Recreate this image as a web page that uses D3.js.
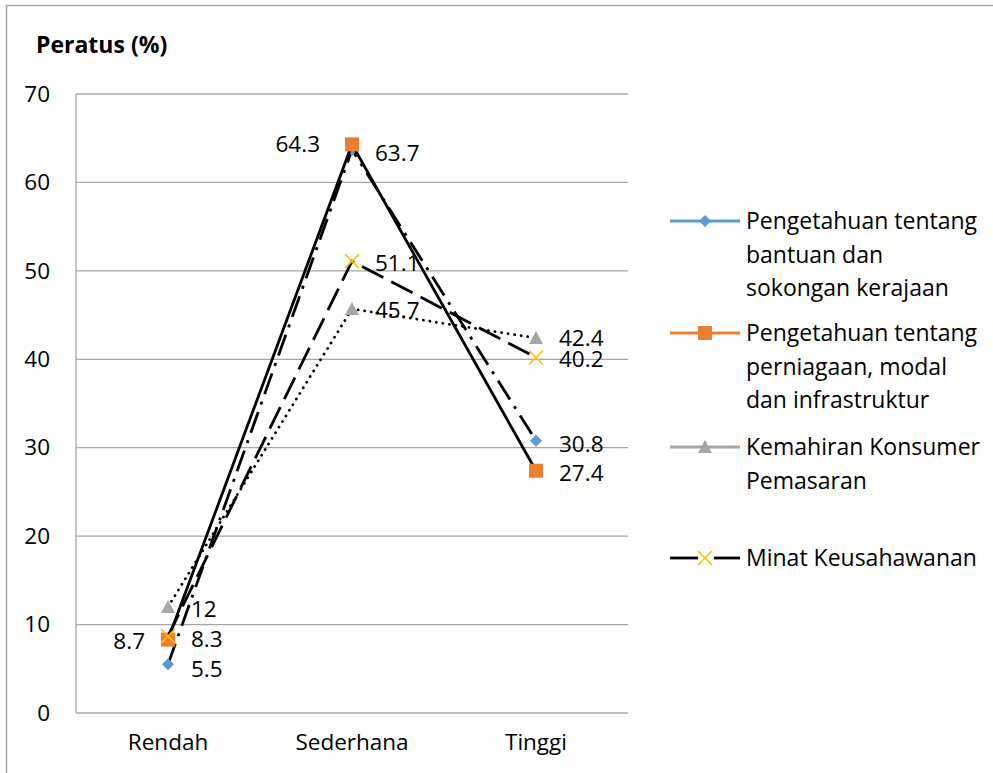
<!DOCTYPE html>
<html>
<head>
<meta charset="utf-8">
<script src="https://cdn.jsdelivr.net/npm/d3@7"></script>
<style>
  body { margin: 0; background: #fff; }
  svg text { font-family: "Open Sans", sans-serif; fill: #000; }
</style>
</head>
<body>
<div id="chart"></div>
<script>
// categories and values
var categories = ["Rendah", "Sederhana", "Tinggi"];
var seriesNames = [
  "Pengetahuan tentang bantuan dan sokongan kerajaan",
  "Pengetahuan tentang perniagaan, modal dan infrastruktur",
  "Kemahiran Konsumer Pemasaran",
  "Minat Keusahawanan"
];
var bantuan = [5.5, 63.7, 30.8];
var perniagaan = [8.3, 64.3, 27.4];
var kemahiran = [12, 45.7, 42.4];
var minat = [8.7, 51.1, 40.2];
var yTicks = [0, 10, 20, 30, 40, 50, 60, 70];

// legend text is wrapped the way the picture shows it
var legendLines = [
  ["Pengetahuan tentang", "bantuan dan", "sokongan kerajaan"],
  ["Pengetahuan tentang", "perniagaan, modal", "dan infrastruktur"],
  ["Kemahiran Konsumer", "Pemasaran"],
  ["Minat Keusahawanan"]
];

var width = 993, height = 773;
var margin = {top: 94, right: 365, bottom: 60, left: 76};
var plotW = width - margin.left - margin.right,
    plotH = height - margin.top - margin.bottom;
var fontSize = "22.5px";

var svg = d3.select("#chart").append("svg")
  .attr("width", width)
  .attr("height", height);

// outer chart frame
svg.append("rect")
  .attr("x", 6.5).attr("y", 5.5)
  .attr("width", width + 10).attr("height", height + 10)
  .attr("fill", "none").attr("stroke", "#a6a6a6").attr("stroke-width", 1.5);

var g = svg.append("g")
  .attr("transform", "translate(" + margin.left + "," + margin.top + ")");

var x = d3.scaleBand().domain(categories).range([0, plotW]);
var y = d3.scaleLinear().domain([0, 70]).range([plotH, 0]);

// gridlines
g.selectAll(".grid").data(yTicks).enter().append("line")
  .attr("x1", 0).attr("x2", plotW)
  .attr("y1", function(d) { return y(d); })
  .attr("y2", function(d) { return y(d); })
  .attr("stroke", "#a6a6a6").attr("stroke-width", 1.3);

// left axis line
g.append("line")
  .attr("x1", 0).attr("x2", 0).attr("y1", 0).attr("y2", plotH)
  .attr("stroke", "#a6a6a6").attr("stroke-width", 1.3);

// y axis labels
var yAxis = g.append("g").call(d3.axisLeft(y).tickValues(yTicks).tickSize(0).tickPadding(26));
yAxis.select(".domain").remove();
yAxis.selectAll("text")
  .style("font-family", "'Open Sans', sans-serif")
  .style("font-size", fontSize).attr("fill", "#000");

// x axis labels
var xAxis = g.append("g")
  .attr("transform", "translate(0," + plotH + ")")
  .call(d3.axisBottom(x).tickSize(0).tickPadding(21));
xAxis.select(".domain").remove();
xAxis.selectAll("text")
  .style("font-family", "'Open Sans', sans-serif")
  .style("font-size", fontSize).attr("fill", "#000");

// axis title
svg.append("text")
  .attr("x", 36).attr("y", 53)
  .style("font-size", "23px").style("font-weight", "bold")
  .text("Peratus (%)");

var series = [
  {name: seriesNames[0], values: bantuan, color: "#5b9bd5", marker: "diamond", dash: "22,8,3,8", cap: "butt", legendSolid: true},
  {name: seriesNames[1], values: perniagaan, color: "#ed7d31", marker: "square", dash: null, cap: "butt", legendSolid: true},
  {name: seriesNames[2], values: kemahiran, color: "#a5a5a5", marker: "triangle", dash: "0.1,6.5", cap: "round", legendSolid: true},
  {name: seriesNames[3], values: minat, color: "#ffc000", marker: "x", dash: "24,9", cap: "butt", legendSolid: false}
];

var line = d3.line()
  .x(function(d, i) { return x(categories[i]) + x.bandwidth() / 2; })
  .y(function(d) { return y(d); });

function drawMarker(sel, type, color) {
  if (type === "diamond") {
    sel.append("path").attr("d", "M0,-6L6,0L0,6L-6,0Z").attr("fill", color);
  } else if (type === "square") {
    sel.append("rect").attr("x", -7).attr("y", -7).attr("width", 14).attr("height", 14).attr("fill", color);
  } else if (type === "triangle") {
    sel.append("path").attr("d", "M0,-7L7,6L-7,6Z").attr("fill", color);
  } else {
    sel.append("path").attr("d", "M-7,-7L7,7M-7,7L7,-7")
      .attr("stroke", color).attr("stroke-width", 1.6).attr("fill", "none");
  }
}

series.forEach(function(s) {
  g.append("path")
    .datum(s.values)
    .attr("d", line)
    .attr("fill", "none")
    .attr("stroke", "#000")
    .attr("stroke-width", 2.8)
    .attr("stroke-linecap", s.cap)
    .attr("stroke-dasharray", s.dash);
  g.selectAll(null).data(s.values).enter().append("g")
    .attr("transform", function(d, i) {
      return "translate(" + (x(categories[i]) + x.bandwidth() / 2) + "," + y(d) + ")";
    })
    .each(function() { drawMarker(d3.select(this), s.marker, s.color); });
});

// data labels: series index, category index, horizontal gap (negative = left side), vertical nudge
var labelPlacement = [
  {s: 0, c: 0, dx: 23, dy: 5}, {s: 0, c: 1, dx: 23, dy: 3}, {s: 0, c: 2, dx: 23, dy: 3},
  {s: 1, c: 0, dx: 23, dy: 0}, {s: 1, c: 1, dx: -32, dy: 0}, {s: 1, c: 2, dx: 23, dy: 2},
  {s: 2, c: 0, dx: 23, dy: 2}, {s: 2, c: 1, dx: 23, dy: 1}, {s: 2, c: 2, dx: 23, dy: 0},
  {s: 3, c: 0, dx: -23, dy: 5}, {s: 3, c: 1, dx: 23, dy: 2}, {s: 3, c: 2, dx: 23, dy: 2}
];
g.selectAll(".dlabel").data(labelPlacement).enter().append("text")
  .attr("x", function(d) { return x(categories[d.c]) + x.bandwidth() / 2 + d.dx; })
  .attr("y", function(d) { return y(series[d.s].values[d.c]) + d.dy; })
  .attr("dy", "0.35em")
  .attr("text-anchor", function(d) { return d.dx > 0 ? "start" : "end"; })
  .style("font-size", fontSize)
  .text(function(d) { return series[d.s].values[d.c]; });

// legend
var legendY = [221, 333, 447, 558];
var legend = svg.append("g");
series.forEach(function(s, i) {
  var lg = legend.append("g").attr("transform", "translate(670," + legendY[i] + ")");
  if (s.legendSolid) {
    lg.append("line").attr("x1", 0).attr("x2", 70).attr("y1", 0).attr("y2", 0)
      .attr("stroke", s.color).attr("stroke-width", 2.8);
  } else {
    lg.append("line").attr("x1", 0).attr("x2", 28).attr("y1", 0).attr("y2", 0)
      .attr("stroke", "#000").attr("stroke-width", 2.8);
    lg.append("line").attr("x1", 44).attr("x2", 70).attr("y1", 0).attr("y2", 0)
      .attr("stroke", "#000").attr("stroke-width", 2.8);
  }
  drawMarker(lg.append("g").attr("transform", "translate(35,0)"), s.marker, s.color);
  lg.selectAll("text").data(legendLines[i]).enter().append("text")
    .attr("x", 76)
    .attr("y", function(d, k) { return k * 33.5; })
    .attr("dy", "0.35em")
    .style("font-size", "23px")
    .text(function(d) { return d; });
});
</script>
</body>
</html>
